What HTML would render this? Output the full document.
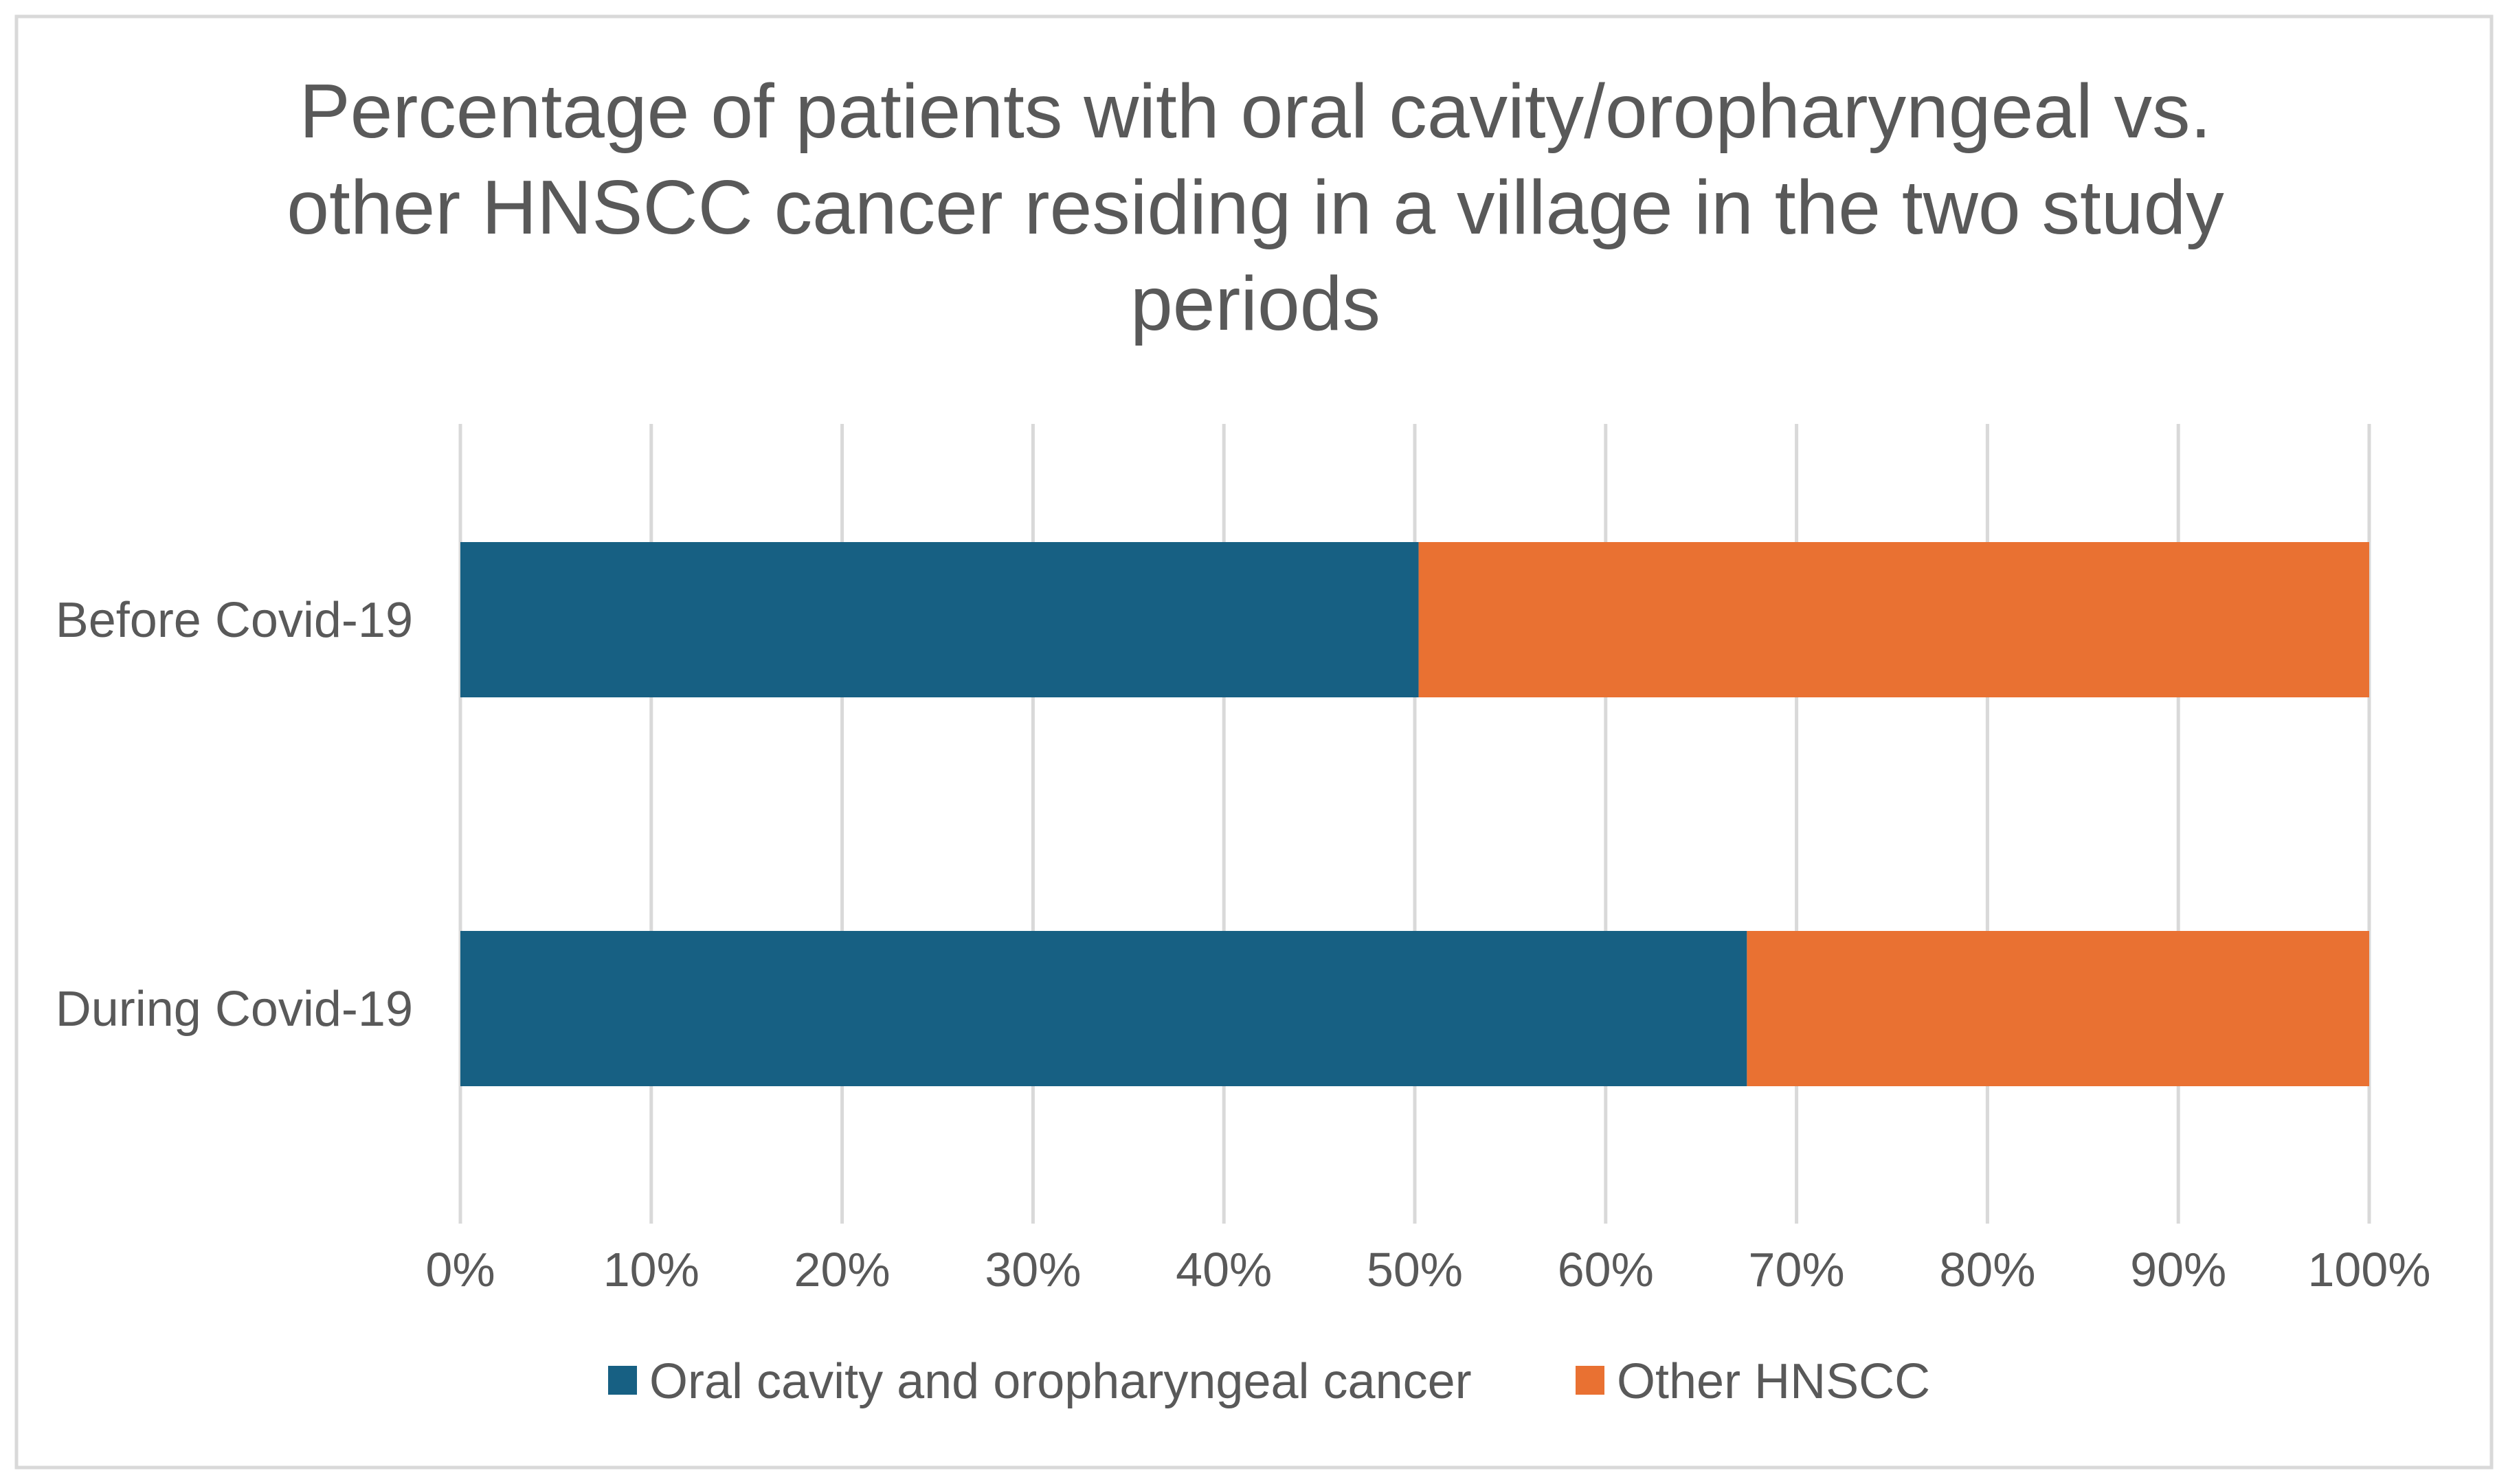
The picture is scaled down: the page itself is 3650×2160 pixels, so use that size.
<!DOCTYPE html>
<html><head><meta charset="utf-8"><style>
html,body{margin:0;padding:0;background:#fff;}
svg{display:block;font-family:"Liberation Sans",sans-serif;}
</style></head><body>
<svg id="chart" width="3650" height="2160" viewBox="0 0 3650 2160">
<rect x="24" y="24" width="3602" height="2112" fill="#fff" stroke="#d9d9d9" stroke-width="5"/>
<g fill="#595959" font-size="111" text-anchor="middle">
<text x="1827" y="200">Percentage of patients with oral cavity/oropharyngeal vs.</text>
<text x="1827" y="340">other HNSCC cancer residing in a village in the two study</text>
<text x="1827" y="480">periods</text>
</g>
<g id="grid"></g>
<g id="bars"></g>
<g id="xlabels"></g>
<g id="ylabels"></g>
<g font-size="72" fill="#595959">
<g>
<rect x="885" y="1988" width="42" height="42" fill="#176083"/>
<text x="945" y="2035">Oral cavity and oropharyngeal cancer</text></g>
<g>
<rect x="2293" y="1988" width="42" height="42" fill="#e97132"/>
<text x="2353" y="2035">Other HNSCC</text></g>
</g>
</svg>
<script>
const categories = ["Before Covid-19", "During Covid-19"];
const oralValues = [50.2, 67.4];
const otherValues = [49.8, 32.6];
const tickValues = [0,10,20,30,40,50,60,70,80,90,100];
const tickLabels = ["0%","10%","20%","30%","40%","50%","60%","70%","80%","90%","100%"];

const NS="http://www.w3.org/2000/svg";
const X0=670, X1=3448, GT=617, GB=1781;
const xs=v=>X0+(X1-X0)*v/100;
const barH=226, firstC=902, step=566;
const yc=i=>firstC+step*i;
function mk(t,a,p){const e=document.createElementNS(NS,t);for(const k in a)e.setAttribute(k,a[k]);p.appendChild(e);return e;}
const grid=document.getElementById('grid'),bars=document.getElementById('bars'),xl=document.getElementById('xlabels'),yl=document.getElementById('ylabels');
tickValues.forEach((v,i)=>{
  const l=mk('line',{x1:xs(v),x2:xs(v),y1:GT,y2:GB,stroke:'#d9d9d9','stroke-width':5},grid);
  
  
  const t=mk('text',{x:xs(v),y:1872,'text-anchor':'middle','font-size':70,fill:'#595959'},xl);
  t.textContent=tickLabels[i];
  
  
});
categories.forEach((c,i)=>{
  const y=yc(i)-barH/2;
  const a=mk('rect',{x:xs(0),y:y,width:xs(oralValues[i])-xs(0),height:barH,fill:'#176083'},bars);
  
  
  const b=mk('rect',{x:xs(oralValues[i]),y:y,width:xs(oralValues[i]+otherValues[i])-xs(oralValues[i]),height:barH,fill:'#e97132'},bars);
  
  
  const t=mk('text',{x:601,y:yc(i)+25,'text-anchor':'end','font-size':72,fill:'#595959'},yl);
  t.textContent=c;
  
  
});
</script>
</body></html>
